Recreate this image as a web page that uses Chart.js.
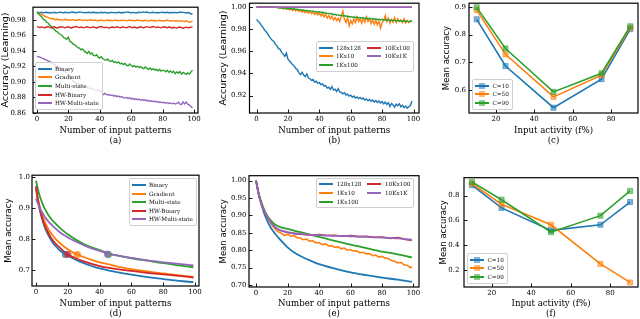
<!DOCTYPE html>
<html><head><meta charset="utf-8">
<script src="https://cdn.jsdelivr.net/npm/chart.js@4.4.0/dist/chart.umd.min.js"></script>
<style>
html,body{margin:0;padding:0;background:#fff;overflow:hidden;}
#wrap{position:relative;width:640px;height:319px;overflow:hidden;background:#fff;}
canvas{position:absolute;}
.lg{position:absolute;background:rgba(255,255,255,0.8);border:0.8px solid #cfcfcf;border-radius:2px;font-family:"DejaVu Serif",serif;font-size:5.7px;color:#111;padding:1.5px 3px 1.5px 2px;box-sizing:border-box;display:grid;grid-auto-flow:column;column-gap:6px;}
.it{display:flex;align-items:center;height:8.6px;white-space:nowrap;}
.hd{position:relative;width:14px;height:8px;margin-right:3.5px;flex:none;}
.ln{position:absolute;left:0;right:0;top:3px;height:2px;}
.mk{position:absolute;left:4px;top:1px;width:6px;height:6px;box-sizing:border-box;}
</style></head>
<body><div id="wrap"></div>
<script>
// ---------------- DATA ----------------
const patternsLabel = 'Number of input patterns';
const activityLabel = 'Input activity (f%)';
const patternTicks = [0, 20, 40, 60, 80, 100];
const activityTicks = [20, 40, 60, 80];
const activity = [10, 25, 50, 75, 90];

// (a) learning accuracy, one value per pattern index 0..99
const aBinary = [
0.9900,0.9893,0.9890,0.9896,0.9889,0.9893,0.9897,0.9890,0.9894,0.9888,
0.9892,0.9896,0.9891,0.9889,0.9895,0.9898,0.9892,0.9890,0.9896,0.9893,
0.9889,0.9894,0.9897,0.9899,0.9893,0.9890,0.9896,0.9901,0.9898,0.9892,
0.9895,0.9890,0.9893,0.9897,0.9891,0.9894,0.9896,0.9890,0.9893,0.9889,
0.9894,0.9897,0.9891,0.9895,0.9893,0.9888,0.9890,0.9896,0.9892,0.9894,
0.9889,0.9893,0.9896,0.9891,0.9894,0.9890,0.9895,0.9899,0.9902,0.9894,
0.9890,0.9895,0.9892,0.9888,0.9893,0.9896,0.9892,0.9898,0.9901,0.9895,
0.9899,0.9893,0.9889,0.9894,0.9896,0.9892,0.9890,0.9894,0.9891,0.9895,
0.9897,0.9890,0.9893,0.9896,0.9890,0.9894,0.9891,0.9895,0.9893,0.9889,
0.9894,0.9897,0.9899,0.9895,0.9892,0.9888,0.9893,0.9890,0.9872,0.9880];
const aGradient = [
0.9900,0.9885,0.9872,0.9868,0.9860,0.9845,0.9838,0.9830,0.9822,0.9812,
0.9818,0.9806,0.9800,0.9808,0.9798,0.9802,0.9795,0.9800,0.9806,0.9796,
0.9799,0.9792,0.9797,0.9801,0.9794,0.9790,0.9797,0.9802,0.9795,0.9791,
0.9798,0.9794,0.9789,0.9795,0.9800,0.9793,0.9789,0.9796,0.9791,0.9787,
0.9794,0.9798,0.9790,0.9786,0.9793,0.9797,0.9790,0.9794,0.9788,0.9792,
0.9797,0.9790,0.9786,0.9793,0.9789,0.9795,0.9790,0.9786,0.9792,0.9797,
0.9789,0.9793,0.9787,0.9791,0.9796,0.9788,0.9792,0.9785,0.9790,0.9794,
0.9788,0.9783,0.9790,0.9795,0.9787,0.9791,0.9785,0.9789,0.9794,0.9786,
0.9790,0.9784,0.9791,0.9796,0.9788,0.9783,0.9790,0.9786,0.9781,0.9789,
0.9784,0.9779,0.9787,0.9782,0.9778,0.9786,0.9775,0.9768,0.9772,0.9784];
const aMulti = [
0.9900,0.9878,0.9855,0.9838,0.9808,0.9795,0.9770,0.9762,0.9731,0.9715,
0.9688,0.9680,0.9652,0.9645,0.9622,0.9610,0.9598,0.9570,0.9562,0.9548,
0.9575,0.9520,0.9512,0.9486,0.9478,0.9462,0.9440,0.9436,0.9412,0.9425,
0.9398,0.9382,0.9365,0.9392,0.9358,0.9372,0.9340,0.9335,0.9348,0.9318,
0.9305,0.9322,0.9296,0.9285,0.9278,0.9294,0.9268,0.9262,0.9276,0.9250,
0.9258,0.9242,0.9255,0.9230,0.9240,0.9222,0.9236,0.9215,0.9205,0.9228,
0.9210,0.9196,0.9208,0.9188,0.9202,0.9182,0.9195,0.9176,0.9170,0.9190,
0.9172,0.9160,0.9178,0.9155,0.9168,0.9150,0.9162,0.9142,0.9158,0.9138,
0.9150,0.9145,0.9128,0.9148,0.9122,0.9140,0.9118,0.9135,0.9105,0.9128,
0.9112,0.9130,0.9098,0.9120,0.9108,0.9095,0.9115,0.9100,0.9125,0.9150];
const aHWBinary = [
0.9712,0.9705,0.9700,0.9708,0.9702,0.9697,0.9706,0.9710,0.9701,0.9696,
0.9704,0.9709,0.9700,0.9695,0.9703,0.9707,0.9711,0.9702,0.9698,0.9705,
0.9709,0.9700,0.9694,0.9703,0.9708,0.9712,0.9704,0.9699,0.9706,0.9701,
0.9696,0.9705,0.9710,0.9702,0.9697,0.9704,0.9708,0.9700,0.9695,0.9703,
0.9709,0.9713,0.9705,0.9699,0.9704,0.9698,0.9693,0.9702,0.9707,0.9700,
0.9704,0.9710,0.9702,0.9696,0.9703,0.9708,0.9701,0.9697,0.9705,0.9711,
0.9703,0.9698,0.9706,0.9700,0.9695,0.9704,0.9709,0.9702,0.9697,0.9706,
0.9711,0.9704,0.9699,0.9707,0.9713,0.9705,0.9700,0.9708,0.9702,0.9696,
0.9705,0.9710,0.9703,0.9698,0.9706,0.9700,0.9694,0.9703,0.9698,0.9692,
0.9701,0.9706,0.9697,0.9690,0.9699,0.9704,0.9696,0.9700,0.9703,0.9708];
const aHWMulti = [
0.9330,0.9322,0.9318,0.9305,0.9300,0.9290,0.9282,0.9270,0.9262,0.9248,
0.9240,0.9222,0.9215,0.9198,0.9185,0.9170,0.9155,0.9140,0.9122,0.9110,
0.9095,0.9062,0.9030,0.9010,0.8995,0.8985,0.8978,0.8965,0.8958,0.8950,
0.8944,0.8935,0.8930,0.8922,0.8915,0.8908,0.8902,0.8895,0.8890,0.8893,
0.8886,0.8875,0.8832,0.8850,0.8840,0.8828,0.8836,0.8822,0.8830,0.8815,
0.8822,0.8808,0.8815,0.8800,0.8808,0.8795,0.8790,0.8798,0.8785,0.8792,
0.8778,0.8786,0.8772,0.8780,0.8768,0.8776,0.8762,0.8770,0.8758,0.8766,
0.8752,0.8760,0.8746,0.8755,0.8742,0.8750,0.8738,0.8745,0.8733,0.8740,
0.8728,0.8736,0.8724,0.8730,0.8720,0.8727,0.8716,0.8724,0.8712,0.8720,
0.8735,0.8712,0.8708,0.8740,0.8715,0.8738,0.8710,0.8700,0.8680,0.8660];

// (b) learning accuracy per network size, pattern index 0..99
const b128 = [
0.9888,0.9872,0.9860,0.9835,0.9820,0.9795,0.9780,0.9760,0.9735,0.9718,
0.9700,0.9690,0.9665,0.9650,0.9625,0.9618,0.9590,0.9575,0.9555,0.9585,
0.9530,0.9512,0.9498,0.9478,0.9468,0.9445,0.9435,0.9405,0.9390,0.9410,
0.9385,0.9372,0.9395,0.9360,0.9352,0.9338,0.9345,0.9322,0.9330,0.9310,
0.9318,0.9298,0.9305,0.9285,0.9292,0.9268,0.9275,0.9255,0.9282,0.9250,
0.9258,0.9238,0.9262,0.9232,0.9228,0.9215,0.9225,0.9205,0.9212,0.9195,
0.9204,0.9185,0.9196,0.9178,0.9188,0.9172,0.9183,0.9168,0.9178,0.9160,
0.9170,0.9152,0.9165,0.9148,0.9160,0.9142,0.9155,0.9138,0.9150,0.9132,
0.9145,0.9125,0.9140,0.9120,0.9135,0.9100,0.9128,0.9115,0.9095,0.9122,
0.9108,0.9125,0.9098,0.9112,0.9090,0.9105,0.9085,0.9098,0.9110,0.9150];
const b1Kx10 = [
1.0000,1.0000,1.0000,1.0000,1.0000,1.0000,1.0000,1.0000,1.0000,1.0000,
1.0000,1.0000,1.0000,1.0000,0.9995,0.9990,0.9998,0.9985,0.9992,0.9980,
0.9988,0.9975,0.9985,0.9970,0.9982,0.9965,0.9978,0.9960,0.9972,0.9955,
0.9968,0.9950,0.9962,0.9945,0.9958,0.9940,0.9955,0.9935,0.9950,0.9930,
0.9945,0.9920,0.9940,0.9912,0.9935,0.9900,0.9925,0.9895,0.9918,0.9885,
0.9905,0.9878,0.9900,0.9870,0.9920,0.9965,0.9890,0.9860,0.9905,0.9830,
0.9880,0.9850,0.9895,0.9860,0.9910,0.9870,0.9895,0.9855,0.9900,0.9865,
0.9912,0.9870,0.9895,0.9850,0.9885,0.9845,0.9880,0.9840,0.9875,0.9810,
0.9860,0.9880,0.9925,0.9870,0.9900,0.9855,0.9890,0.9865,0.9905,0.9860,
0.9895,0.9870,0.9885,0.9860,0.9895,0.9855,0.9880,0.9860,0.9875,0.9880];
const b1Kx100 = [
1.0000,1.0000,1.0000,1.0000,1.0000,1.0000,1.0000,1.0000,1.0000,1.0000,
1.0000,1.0000,0.9998,0.9997,0.9995,0.9994,0.9993,0.9990,0.9992,0.9988,
0.9990,0.9986,0.9988,0.9983,0.9985,0.9980,0.9982,0.9976,0.9979,0.9972,
0.9974,0.9968,0.9971,0.9965,0.9968,0.9962,0.9966,0.9958,0.9962,0.9955,
0.9958,0.9950,0.9955,0.9946,0.9950,0.9942,0.9946,0.9938,0.9942,0.9932,
0.9936,0.9928,0.9932,0.9924,0.9928,0.9920,0.9925,0.9916,0.9920,0.9912,
0.9916,0.9908,0.9913,0.9905,0.9910,0.9902,0.9907,0.9900,0.9905,0.9897,
0.9902,0.9894,0.9899,0.9892,0.9897,0.9889,0.9894,0.9886,0.9892,0.9884,
0.9890,0.9882,0.9888,0.9880,0.9886,0.9878,0.9884,0.9876,0.9882,0.9875,
0.9880,0.9873,0.9879,0.9871,0.9877,0.9869,0.9875,0.9868,0.9874,0.9870];
const bFlatX = [0, 99];
const b10Kx100 = [1.0, 1.0];
const b10Kx1K = [1.0, 1.0];

// (c) mean accuracy vs input activity
const c10 = [0.855, 0.687, 0.537, 0.640, 0.820];
const c50 = [0.888, 0.729, 0.576, 0.654, 0.825];
const c90 = [0.898, 0.750, 0.594, 0.661, 0.830];

// (d) mean accuracy vs number of patterns
const dX = [0,1,2,3,4,5,6,8,10,12,15,18,20,25,30,35,40,46,50,60,70,80,90,99];
const dBinary   = [0.962,0.930,0.903,0.880,0.861,0.845,0.832,0.810,0.792,0.779,0.763,0.753,0.747,0.733,0.722,0.713,0.705,0.698,0.694,0.685,0.677,0.671,0.665,0.661];
const dGradient = [0.966,0.935,0.912,0.892,0.876,0.862,0.850,0.830,0.815,0.802,0.787,0.774,0.767,0.752,0.742,0.733,0.725,0.718,0.713,0.703,0.696,0.689,0.683,0.678];
const dMulti    = [0.988,0.965,0.945,0.929,0.915,0.903,0.893,0.876,0.862,0.851,0.836,0.823,0.815,0.798,0.784,0.773,0.764,0.753,0.748,0.738,0.730,0.722,0.715,0.709];
const dHWBinary = [0.970,0.935,0.907,0.885,0.867,0.851,0.838,0.817,0.800,0.787,0.772,0.758,0.751,0.738,0.728,0.720,0.713,0.707,0.704,0.697,0.691,0.686,0.681,0.676];
const dHWMulti  = [0.930,0.917,0.905,0.894,0.885,0.876,0.868,0.855,0.845,0.835,0.822,0.811,0.805,0.792,0.780,0.770,0.762,0.752,0.748,0.739,0.731,0.725,0.720,0.715];
const dMarkX = [18.5, 26, 45.5, 20, 45];
const dMarkY = [0.750, 0.750, 0.750, 0.750, 0.751];

// (e) mean accuracy per network size
const eX = [0,1,2,3,4,5,6,8,10,12,15,20,25,30,35,40,50,60,70,80,90,99];
const e128   = [1.000,0.975,0.955,0.938,0.922,0.908,0.896,0.876,0.860,0.848,0.832,0.808,0.791,0.779,0.769,0.760,0.747,0.736,0.728,0.721,0.715,0.709];
const e1Kx100= [1.000,0.976,0.958,0.943,0.930,0.918,0.908,0.893,0.882,0.874,0.867,0.861,0.855,0.850,0.844,0.838,0.827,0.816,0.806,0.796,0.788,0.779];
const e1Kx10X = [0,1,2,3,4,5,6,7,8,9,10,12,14,16,18,20,22,24,26,28,30,32,34,36,38,40,42,44,46,48,50,52,54,56,58,60,62,64,66,68,70,72,74,76,78,80,82,84,86,88,90,92,94,96,98,99];
const e1Kx10 = [1.000,0.975,0.955,0.940,0.928,0.917,0.906,0.897,0.888,0.880,0.873,0.862,0.853,0.849,0.842,0.846,0.840,0.842,0.836,0.835,0.830,0.832,0.826,0.827,0.821,0.822,0.816,0.818,0.812,0.813,0.808,0.810,0.804,0.806,0.800,0.802,0.797,0.798,0.792,0.794,0.789,0.790,0.784,0.786,0.780,0.782,0.777,0.776,0.770,0.768,0.763,0.765,0.758,0.756,0.750,0.752];
const eBigX = [0,2,4,6,8,10,12,15,20,25,30,35,40,45,50,55,60,65,70,75,80,85,90,95,99];
const e10Kx100 = [1.000,0.953,0.925,0.905,0.890,0.876,0.866,0.857,0.851,0.847,0.845,0.843,0.845,0.842,0.843,0.840,0.842,0.839,0.840,0.837,0.838,0.834,0.836,0.831,0.828];
const e10Kx1K  = [1.000,0.953,0.925,0.905,0.890,0.876,0.866,0.858,0.852,0.848,0.846,0.844,0.843,0.842,0.841,0.841,0.840,0.839,0.838,0.837,0.836,0.835,0.834,0.832,0.830];

// (f) mean accuracy vs input activity
const f10 = [0.884, 0.700, 0.518, 0.563, 0.747];
const f50 = [0.897, 0.729, 0.563, 0.247, 0.097];
const f90 = [0.910, 0.766, 0.503, 0.637, 0.837];

const namesA = ['Binary', 'Gradient', 'Multi-state', 'HW-Binary', 'HW-Multi-state'];
const namesB = ['128x128', '1Kx10', '1Kx100', '10Kx100', '10Kx1K'];
const namesC = ['C=10', 'C=50', 'C=90'];

// ---------------- STYLE ----------------
const COL = ['#1f77b4', '#ff7f0e', '#2ca02c', '#d62728', '#9467bd'];
function rgba(hex, a) { const n = parseInt(hex.slice(1), 16); return `rgba(${n>>16},${(n>>8)&255},${n&255},${a})`; }
Chart.defaults.color = '#000';
Chart.defaults.font.family = '"DejaVu Serif", serif';

const idx = arr => arr.map((v, i) => ({x: i, y: v}));
const xy = (xs, ys) => ys.map((v, i) => ({x: xs[i], y: v}));

function lineDs(label, data, color, order, extra) {
  return Object.assign({label, data, borderColor: color, backgroundColor: color, borderWidth: 1.4,
    pointRadius: 0, tension: 0, order, fill: false}, extra || {});
}
function sqDs(label, data, color, order) {
  return {label, data, borderColor: color, backgroundColor: color, borderWidth: 1.6, order,
    pointStyle: 'rect', pointRadius: 3.6, pointBackgroundColor: rgba(color, 0.55),
    pointBorderColor: rgba(color, 0.55), pointBorderWidth: 1, tension: 0};
}

const framePlugin = {
  id: 'frame',
  afterDatasetsDraw(chart) {
    const {ctx, chartArea: a, scales} = chart;
    ctx.save();
    ctx.strokeStyle = '#000';
    ctx.lineWidth = 0.9;
    ctx.beginPath();
    scales.x.ticks.forEach(t => { const p = Math.round(scales.x.getPixelForValue(t.value)) + 0.5; ctx.moveTo(p, a.bottom); ctx.lineTo(p, a.bottom - 3.5); });
    scales.y.ticks.forEach(t => { const p = Math.round(scales.y.getPixelForValue(t.value)) + 0.5; ctx.moveTo(a.left, p); ctx.lineTo(a.left + 3.5, p); });
    ctx.stroke();
    ctx.lineWidth = 1.2;
    ctx.strokeRect(a.left, a.top, a.right - a.left, a.bottom - a.top);
    ctx.restore();
  }
};

const wrap = document.getElementById('wrap');
const PAD_T = 6, PAD_R = 10;

function makeChart(cfg) {
  const b = cfg.box;
  const left = b.L - cfg.yW, top = b.T - PAD_T;
  const w = b.R + PAD_R - left, h = b.B + cfg.xH - top;
  const cv = document.createElement('canvas');
  cv.width = w; cv.height = h;
  cv.style.left = left + 'px'; cv.style.top = top + 'px';
  cv.style.width = w + 'px'; cv.style.height = h + 'px';
  wrap.appendChild(cv);
  const chart = new Chart(cv.getContext('2d'), {
    type: 'line',
    data: {datasets: cfg.datasets},
    options: {
      responsive: false, animation: false, devicePixelRatio: 1,
      layout: {padding: {left: 0, top: PAD_T, right: PAD_R, bottom: 0}},
      plugins: {legend: {display: false}, tooltip: {enabled: false}},
      elements: {line: {borderCapStyle: 'butt'}},
      scales: {
        x: {
          type: 'linear', min: cfg.xMin, max: cfg.xMax,
          afterBuildTicks: s => { s.ticks = cfg.xTicks.map(v => ({value: v})); },
          afterFit: s => { s.height = cfg.xH; },
          grid: {display: false, drawTicks: false}, border: {display: false},
          ticks: {autoSkip: false, maxRotation: 0, padding: 2, font: {size: 7}, color: '#000',
                  callback: v => String(v)},
          title: {display: true, text: cfg.xTitle, padding: {top: 0, bottom: 0},
                  font: {size: 8.6, family: '"DejaVu Serif", serif', lineHeight: 1.2}, color: '#000'}
        },
        y: {
          type: 'linear', min: cfg.yMin, max: cfg.yMax,
          afterBuildTicks: s => { s.ticks = cfg.yTicks.map(v => ({value: v})); },
          afterFit: s => { s.width = cfg.yW; },
          grid: {display: false, drawTicks: false}, border: {display: false},
          ticks: {autoSkip: false, padding: cfg.yPad, font: {size: 7}, color: '#000',
                  callback: v => Number(v).toFixed(cfg.yDec)},
          title: {display: true, text: cfg.yTitle, padding: {top: 0, bottom: 0},
                  font: {size: cfg.yTitleSize, family: '"DejaVu Sans", sans-serif', lineHeight: 1.2}, color: '#000'}
        }
      }
    },
    plugins: [framePlugin]
  });
  // legend (HTML overlay)
  const lg = cfg.legend;
  const div = document.createElement('div');
  div.className = 'lg';
  div.style.gridTemplateRows = `repeat(${lg.rows}, auto)`;
  lg.items.forEach(it => {
    const d = document.createElement('div');
    d.className = 'it';
    d.innerHTML = `<span class="hd"><span class="ln" style="background:${it.color}"></span>` +
      (it.marker ? `<span class="mk" style="background:${rgba(it.color,0.55)}"></span>` : '') +
      `</span><span>${it.label}</span>`;
    div.appendChild(d);
  });
  wrap.appendChild(div);
  const a = chart.chartArea;
  const aL = left + a.left, aT = top + a.top, aR = left + a.right, aB = top + a.bottom;
  const lw = div.offsetWidth, lh = div.offsetHeight;
  let x, y;
  if (lg.loc === 'll') { x = aL + lg.dx; y = aB - lg.dy - lh; }
  else if (lg.loc === 'ur') { x = aR - lg.dx - lw; y = aT + lg.dy; }
  else { x = aR - lg.dx - lw; y = (aT + aB) / 2 - lh / 2 + lg.dy; }
  div.style.left = x + 'px'; div.style.top = y + 'px';
  return chart;
}

const itemsOf = (names, marker) => names.map((n, i) => ({label: n, color: COL[i], marker}));

// (a)
makeChart({
  box: {L: 33, T: 2, R: 198, B: 113}, yW: 33, xH: 33, yPad: 7,
  xMin: -2.5, xMax: 102.5, xTicks: patternTicks,
  yMin: 0.8597, yMax: 0.9962, yTicks: [0.86, 0.88, 0.90, 0.92, 0.94, 0.96, 0.98], yDec: 2,
  yTitle: 'Accuracy (Learning)', yTitleSize: 9.5, xTitle: [patternsLabel, '(a)'],
  datasets: [
    lineDs(namesA[0], idx(aBinary), COL[0], 5),
    lineDs(namesA[1], idx(aGradient), COL[1], 4),
    lineDs(namesA[2], idx(aMulti), COL[2], 3),
    lineDs(namesA[3], idx(aHWBinary), COL[3], 2),
    lineDs(namesA[4], idx(aHWMulti), COL[4], 1)
  ],
  legend: {items: itemsOf(namesA), rows: 5, loc: 'll', dx: 1.5, dy: 3}
});

// (b)
makeChart({
  box: {L: 249, T: 2, R: 419, B: 113}, yW: 31.5, xH: 33, yPad: 3,
  xMin: -4.5, xMax: 103.5, xTicks: patternTicks,
  yMin: 0.9042, yMax: 1.0036, yTicks: [0.92, 0.94, 0.96, 0.98, 1.00], yDec: 2,
  yTitle: 'Accuracy (Learning)', yTitleSize: 9.5, xTitle: [patternsLabel, '(b)'],
  datasets: [
    lineDs(namesB[0], idx(b128), COL[0], 5),
    lineDs(namesB[1], idx(b1Kx10), COL[1], 4),
    lineDs(namesB[2], idx(b1Kx100), COL[2], 3),
    lineDs(namesB[3], xy(bFlatX, b10Kx100), COL[3], 2),
    lineDs(namesB[4], xy(bFlatX, b10Kx1K), COL[4], 1)
  ],
  legend: {items: itemsOf(namesB), rows: 3, loc: 'cr', dx: 5, dy: -1.5}
});

// (c)
makeChart({
  box: {L: 469, T: 2, R: 638, B: 113}, yW: 27, xH: 33, yPad: 3,
  xMin: 6, xMax: 94, xTicks: activityTicks,
  yMin: 0.518, yMax: 0.913, yTicks: [0.6, 0.7, 0.8, 0.9], yDec: 1,
  yTitle: 'Mean accuracy', yTitleSize: 8.5, xTitle: [activityLabel, '(c)'],
  datasets: [
    sqDs(namesC[0], xy(activity, c10), COL[0], 3),
    sqDs(namesC[1], xy(activity, c50), COL[1], 2),
    sqDs(namesC[2], xy(activity, c90), COL[2], 1)
  ],
  legend: {items: itemsOf(namesC, true), rows: 3, loc: 'll', dx: 3, dy: 3}
});

// (d)
const smooth = {cubicInterpolationMode: 'monotone', borderWidth: 1.8};
const markDs = (i, order) => ({label: namesA[i] + ' marker', data: [{x: dMarkX[i], y: dMarkY[i]}],
  showLine: false, pointRadius: 3.6, pointBackgroundColor: rgba(COL[i], 0.75), pointBorderWidth: 0, order});
makeChart({
  box: {L: 32, T: 175, R: 199, B: 286}, yW: 28, xH: 33, yPad: 2,
  xMin: -2.5, xMax: 102.5, xTicks: patternTicks,
  yMin: 0.6486, yMax: 1.0055, yTicks: [0.7, 0.8, 0.9, 1.0], yDec: 1,
  yTitle: 'Mean accuracy', yTitleSize: 8.5, xTitle: [patternsLabel, '(d)'],
  datasets: [
    lineDs(namesA[0], xy(dX, dBinary), COL[0], 10, smooth),
    lineDs(namesA[1], xy(dX, dGradient), COL[1], 9, smooth),
    lineDs(namesA[2], xy(dX, dMulti), COL[2], 8, smooth),
    lineDs(namesA[3], xy(dX, dHWBinary), COL[3], 7, smooth),
    lineDs(namesA[4], xy(dX, dHWMulti), COL[4], 6, smooth),
    markDs(0, 5), markDs(1, 4), markDs(2, 3), markDs(3, 2), markDs(4, 1)
  ],
  legend: {items: itemsOf(namesA), rows: 5, loc: 'ur', dx: 2.5, dy: 3}
});

// (e)
makeChart({
  box: {L: 249, T: 175, R: 419, B: 287}, yW: 30, xH: 32, yPad: 2.5,
  xMin: -4.5, xMax: 103.5, xTicks: patternTicks,
  yMin: 0.694, yMax: 1.0143, yTicks: [0.70, 0.75, 0.80, 0.85, 0.90, 0.95, 1.00], yDec: 2,
  yTitle: 'Mean accuracy', yTitleSize: 8.5, xTitle: [patternsLabel, '(e)'],
  datasets: [
    lineDs(namesB[0], xy(eX, e128), COL[0], 5, smooth),
    lineDs(namesB[1], xy(e1Kx10X, e1Kx10), COL[1], 4, {borderWidth: 1.6}),
    lineDs(namesB[2], xy(eX, e1Kx100), COL[2], 3, smooth),
    lineDs(namesB[3], xy(eBigX, e10Kx100), COL[3], 2, {borderWidth: 1.6}),
    lineDs(namesB[4], xy(eBigX, e10Kx1K), COL[4], 1, smooth)
  ],
  legend: {items: itemsOf(namesB), rows: 3, loc: 'ur', dx: 5, dy: 2}
});

// (f)
makeChart({
  box: {L: 464, T: 175, R: 638, B: 287}, yW: 25, xH: 32, yPad: 4.5,
  xMin: 6, xMax: 94, xTicks: activityTicks,
  yMin: 0.06, yMax: 0.944, yTicks: [0.2, 0.4, 0.6, 0.8], yDec: 1,
  yTitle: 'Mean accuracy', yTitleSize: 8.5, xTitle: [activityLabel, '(f)'],
  datasets: [
    sqDs(namesC[0], xy(activity, f10), COL[0], 3),
    sqDs(namesC[1], xy(activity, f50), COL[1], 2),
    sqDs(namesC[2], xy(activity, f90), COL[2], 1)
  ],
  legend: {items: itemsOf(namesC, true), rows: 3, loc: 'll', dx: 3, dy: 3}
});
</script></body></html>
